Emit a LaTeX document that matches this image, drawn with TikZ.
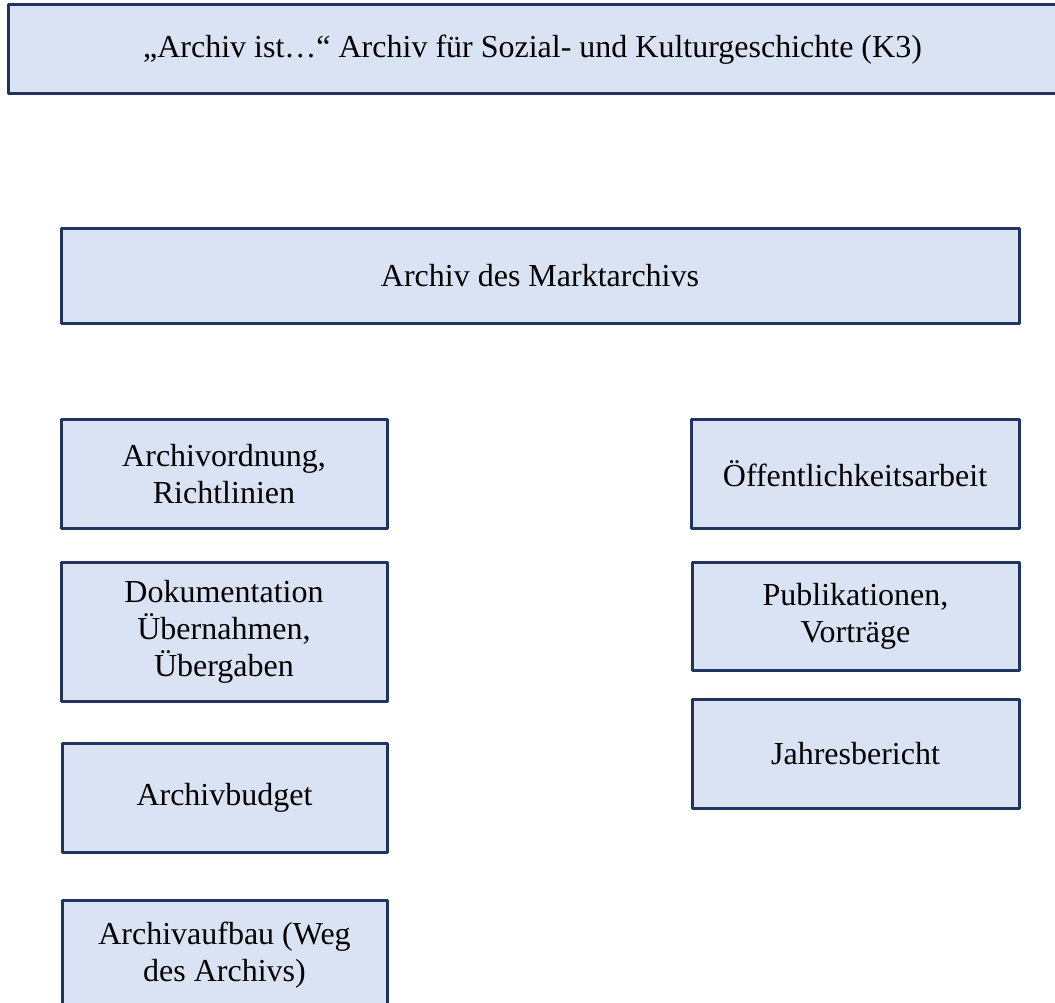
\documentclass[tikz,border=0pt]{standalone}
\usepackage{fontspec}
\setmainfont{Liberation Serif}
\definecolor{rahmen}{HTML}{1F3560}
\definecolor{flaeche}{HTML}{DAE3F3}
\begin{document}
\begin{tikzpicture}[x=1pt, y=-1pt, line join=round,
  kasten/.style={draw=rahmen, fill=flaeche, line width=3pt, inner sep=0pt,
    align=center, font=\fontsize{32}{37}\selectfont}]
% Seitenrahmen
\useasboundingbox (0,0) rectangle (1055,1003);
% Kopfzeile (rechter Rand liegt ausserhalb)
\node[kasten, minimum width=1060pt, minimum height=89pt] (kopf) at (538,49.5)
  {„Archiv ist…“ Archiv für Sozial- und Kulturgeschichte (K3)\hspace*{11pt}};
% Hauptkasten
\node[kasten, minimum width=958pt, minimum height=94pt] (markt) at (540,276)
  {Archiv des Marktarchivs};
% Linke Spalte
\node[kasten, minimum width=326pt, minimum height=108.5pt] (ordnung) at (224,473.8)
  {Archivordnung,\\Richtlinien};
\node[kasten, minimum width=326pt, minimum height=139pt] (doku) at (224,631.5)
  {Dokumentation\\Übernahmen,\\Übergaben};
\node[kasten, minimum width=325pt, minimum height=109pt] (budget) at (224.5,797.5)
  {Archivbudget};
\node[kasten, minimum width=325pt, minimum height=110pt] (aufbau) at (224.5,955)
  {Archivaufbau (Weg\\des Archivs)};
% Rechte Spalte
\node[kasten, minimum width=328pt, minimum height=108.5pt] (oeff) at (855,473.8)
  {Öffentlichkeitsarbeit};
\node[kasten, minimum width=327pt, minimum height=108pt] (publ) at (855.5,616)
  {Publikationen,\\Vorträge};
\node[kasten, minimum width=327pt, minimum height=108.5pt] (jahr) at (855.5,753.8)
  {Jahresbericht};
\end{tikzpicture}
\end{document}
